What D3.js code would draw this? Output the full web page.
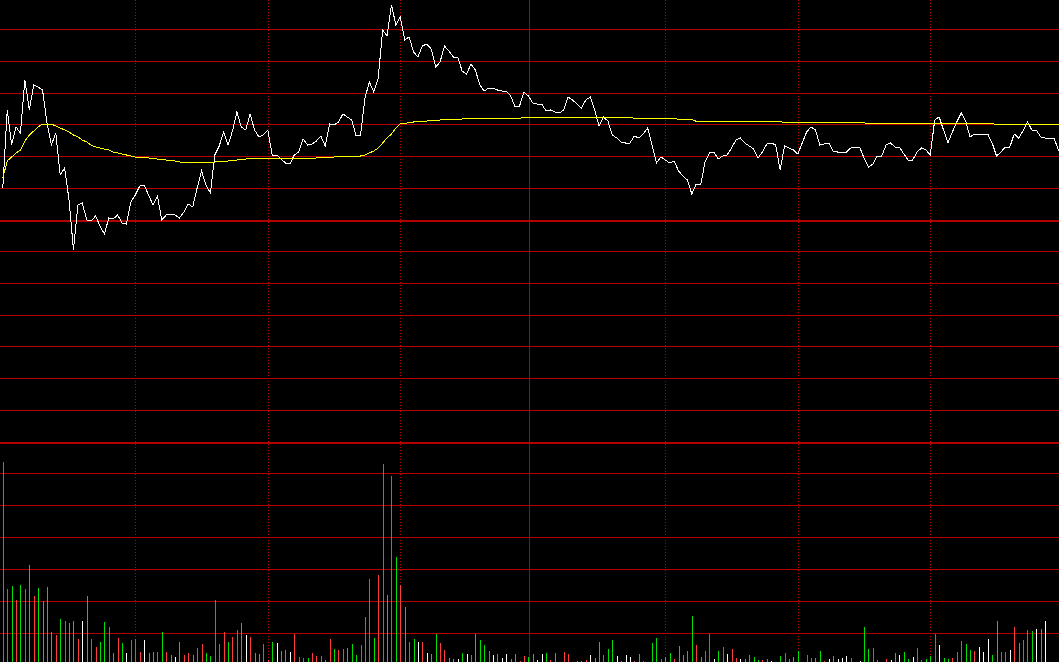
<!DOCTYPE html>
<html>
<head>
<meta charset="utf-8">
<script src="https://cdn.jsdelivr.net/npm/d3@7"></script>
<style>
html, body { margin: 0; padding: 0; background: #000; overflow: hidden; }
</style>
</head>
<body>
<script>
// intraday (分时) chart: previous close, price and average per minute, volume per minute
var prevClose = 2.001;
var maxDev = 0.2219;

var price = [
  2.033,2.111,2.076,2.094,2.088,2.141,2.111,2.136,2.134,2.131,
  2.098,2.076,2.088,2.046,2.053,2.021,1.971,2.016,2.018,2.001,
  2.000,2.005,1.995,1.987,2.003,2.002,2.006,1.998,1.997,2.019,
  2.026,2.035,2.036,2.026,2.016,2.025,2.001,2.006,2.007,2.006,
  2.003,2.009,2.017,2.014,2.033,2.050,2.036,2.028,2.066,2.075,
  2.089,2.076,2.090,2.109,2.094,2.091,2.107,2.091,2.084,2.086,
  2.091,2.066,2.066,2.062,2.058,2.057,2.066,2.069,2.082,2.076,
  2.077,2.080,2.085,2.075,2.097,2.096,2.099,2.107,2.104,2.101,
  2.085,2.086,2.123,2.139,2.129,2.143,2.191,2.185,2.216,2.196,
  2.204,2.181,2.184,2.169,2.164,2.175,2.177,2.172,2.154,2.159,
  2.175,2.170,2.164,2.164,2.150,2.147,2.157,2.151,2.136,2.130,
  2.133,2.133,2.131,2.130,2.130,2.125,2.114,2.115,2.129,2.125,
  2.118,2.117,2.117,2.110,2.111,2.109,2.108,2.111,2.124,2.121,
  2.117,2.113,2.121,2.124,2.111,2.095,2.104,2.100,2.086,2.083,
  2.079,2.078,2.078,2.085,2.083,2.087,2.093,2.076,2.058,2.064,
  2.061,2.058,2.060,2.050,2.045,2.041,2.027,2.037,2.036,2.059,
  2.068,2.069,2.062,2.065,2.066,2.073,2.081,2.083,2.078,2.075,
  2.072,2.063,2.069,2.077,2.078,2.076,2.051,2.075,2.073,2.071,
  2.067,2.078,2.089,2.094,2.091,2.076,2.077,2.078,2.070,2.069,
  2.069,2.069,2.073,2.074,2.074,2.063,2.054,2.057,2.065,2.065,
  2.076,2.078,2.074,2.074,2.067,2.061,2.061,2.069,2.073,2.071,
  2.066,2.101,2.104,2.091,2.078,2.089,2.099,2.108,2.100,2.084,
  2.087,2.087,2.087,2.087,2.078,2.065,2.069,2.074,2.074,2.087,
  2.083,2.090,2.099,2.091,2.091,2.084,2.083,2.083,2.083,2.071,
  2.066
];

var avgPrice = [
  2.043,2.060,2.064,2.068,2.071,2.080,2.086,2.090,2.094,2.097,
  2.097,2.097,2.095,2.093,2.091,2.089,2.086,2.084,2.081,2.079,
  2.076,2.074,2.073,2.072,2.071,2.069,2.068,2.067,2.066,2.065,
  2.064,2.064,2.0635,2.063,2.063,2.062,2.062,2.061,2.0605,2.060,
  2.059,2.0585,2.0585,2.0585,2.0585,2.0585,2.0585,2.0585,2.059,2.0595,
  2.060,2.060,2.0605,2.061,2.0615,2.062,2.0625,2.0627,2.0627,2.0627,
  2.0627,2.0627,2.0627,2.0627,2.0627,2.0627,2.0627,2.0627,2.0627,2.0627,
  2.0627,2.063,2.0635,2.064,2.064,2.064,2.0643,2.0645,2.0647,2.0648,
  2.065,2.065,2.066,2.068,2.070,2.073,2.078,2.083,2.087,2.093,
  2.097,2.0978,2.0982,2.099,2.0993,2.0997,2.100,2.1005,2.1008,2.101,
  2.1013,2.1014,2.1015,2.1017,2.102,2.1024,2.1027,2.1027,2.1027,2.1027,
  2.1027,2.1027,2.1027,2.1027,2.1027,2.1027,2.1027,2.1027,2.1037,2.1037,
  2.1037,2.1037,2.1037,2.1037,2.1037,2.1037,2.1037,2.1037,2.1037,2.1037,
  2.1037,2.1037,2.1037,2.1037,2.1037,2.1037,2.1037,2.1037,2.1037,2.1037,
  2.1037,2.1037,2.1037,2.1027,2.1027,2.1027,2.1027,2.1027,2.1027,2.1027,
  2.1027,2.1027,2.1027,2.1017,2.1017,2.1017,2.1017,2.0997,2.0997,2.0997,
  2.0997,2.0997,2.0997,2.0997,2.0997,2.0997,2.0997,2.0997,2.0997,2.0997,
  2.0997,2.0997,2.0997,2.0997,2.0997,2.0997,2.0997,2.0983,2.0983,2.0983,
  2.0983,2.0983,2.0983,2.0983,2.0983,2.0983,2.0983,2.0983,2.0983,2.0983,
  2.0983,2.0983,2.0983,2.0983,2.0983,2.0983,2.0973,2.0973,2.0973,2.0973,
  2.0973,2.0973,2.0973,2.0973,2.0973,2.0973,2.0973,2.0973,2.0973,2.0973,
  2.0973,2.0973,2.0973,2.0973,2.0973,2.0973,2.0973,2.0973,2.0973,2.0973,
  2.0973,2.0973,2.0973,2.0973,2.0973,2.0967,2.0967,2.0967,2.0967,2.0967,
  2.0967,2.0967,2.0967,2.0967,2.0967,2.0967,2.0967,2.0967,2.0967,2.0967,
  2.0957
];

var volume = [
  2033,760,790,650,800,760,1000,690,770,640,
  780,330,300,460,440,420,440,260,440,690,
  260,180,230,430,380,120,270,220,120,250,
  260,130,250,120,130,130,330,130,100,80,
  230,100,120,100,170,210,120,90,650,210,
  330,230,280,350,420,300,280,120,110,210,
  50,230,220,140,150,130,310,80,70,70,
  120,90,90,50,260,160,150,160,170,210,
  100,200,480,860,270,900,2010,700,1890,1080,
  800,580,230,260,230,230,120,110,310,220,
  150,70,60,60,120,110,100,310,250,200,
  140,100,110,70,110,60,110,40,90,80,
  110,50,110,120,50,120,20,130,110,20,
  40,40,50,100,70,230,100,160,250,90,
  40,100,80,40,110,40,20,220,270,60,
  80,120,60,190,100,140,490,200,80,140,
  310,60,140,180,110,160,70,60,60,100,
  80,50,50,60,40,20,90,120,60,80,
  140,10,100,70,70,140,40,60,90,60,
  70,90,70,10,40,380,160,170,50,10,
  60,50,120,100,130,60,80,170,50,60,
  90,310,200,70,60,70,130,240,210,150,
  140,180,130,260,100,440,130,130,150,380,
  220,250,350,340,360,360,440,0,0,0,
  0
];

// r = up tick, g = down tick, w = unchanged
var tickDir = (
  "rrgrgrgrgg" + "ggrgrggrwg" + "rrggrgrgwr" + "rrwggrgrgw" +
  "grrgrrggrr" + "rgrrgwrggr" + "rgwggwrrrg" + "rrrgrgrrgg" +
  "grrrgrrgrg" + "rgrgwrwggr" + "rggwgwrggg" + "rwgwwggrrg" +
  "gwwgrggrrg" + "ggrwggrggw" + "gwwrgrrggr" + "ggrggggrgr" +
  "rwgrwrrwgg" + "ggrrwggrgg" + "grrrggrwgw" + "wwrwwggrrw" +
  "rwgwggwrrg" + "grwggrrrgg" + "rwwwggrrwr" + "grrgwgwwww" + "w"
).split("");

var halfHourIdx = [30, 60, 90, 150, 180, 210];
var noonIdx = 119.2;

var colors = { r: "#ff3c3c", g: "#00e000", w: "#ffffff" };
var gridColor = "#b40000";

var W = 1059, H = 662;

var svg = d3.select("body")
  .append("svg")
  .attr("width", W)
  .attr("height", H)
  .style("display", "block")
  .style("background", "#000");

var x = d3.scaleLinear().domain([0, 240]).range([2.8, 1062.8]);
var y = d3.scaleLinear().domain([prevClose - maxDev, prevClose + maxDev]).range([441.9, -1.9]);
var yv = d3.scaleLinear().domain([0, 2240]).range([665.3, 441.3]);

var grid = svg.append("g").attr("shape-rendering", "crispEdges");

// price grid: 7 steps each side of the previous close
var step = maxDev / 7;
d3.range(-7, 7).forEach(function(k){
  var thick = (k == 0 || k == -7);
  var py = thick ? Math.round(y(prevClose + k * step)) + 1 : Math.floor(y(prevClose + k * step)) + 0.5;
  grid.append("line")
    .attr("x1", 0).attr("x2", W)
    .attr("y1", py).attr("y2", py)
    .attr("stroke", gridColor)
    .attr("stroke-width", thick ? 2 : 1);
});

// volume grid
d3.range(1, 7).forEach(function(k){
  var vy = Math.floor(yv(k * 320)) + 0.5;
  grid.append("line")
    .attr("x1", 0).attr("x2", W)
    .attr("y1", vy).attr("y2", vy)
    .attr("stroke", gridColor)
    .attr("stroke-width", 1);
});

// time grid
halfHourIdx.forEach(function(i){
  var tx = Math.round(x(i)) + 0.5;
  grid.append("line")
    .attr("x1", tx).attr("x2", tx)
    .attr("y1", 0).attr("y2", H)
    .attr("stroke", gridColor)
    .attr("stroke-dasharray", "1,2");
});
grid.append("line")
  .attr("x1", Math.round(x(noonIdx)) + 0.5).attr("x2", Math.round(x(noonIdx)) + 0.5)
  .attr("y1", 0).attr("y2", H)
  .attr("stroke", gridColor);

// volume bars
svg.append("g")
  .attr("shape-rendering", "crispEdges")
  .selectAll("rect")
  .data(volume)
  .enter()
  .filter(function(d){ return d > 0; })
  .append("rect")
  .attr("x", function(d, i){ return Math.round(x(i)); })
  .attr("y", function(d){ return yv(d); })
  .attr("width", 1)
  .attr("height", function(d){ return yv(0) - yv(d); })
  .attr("fill", function(d, i){ return colors[tickDir[i]]; });

var priceLine = d3.line()
  .x(function(d, i){ return x(i); })
  .y(function(d){ return y(d); });

svg.append("path")
  .datum(price)
  .attr("d", priceLine)
  .attr("fill", "none")
  .attr("stroke", "#ffffff")
  .attr("stroke-width", 1)
  .attr("shape-rendering", "crispEdges");

svg.append("path")
  .datum(avgPrice)
  .attr("d", priceLine)
  .attr("fill", "none")
  .attr("stroke", "#ffff00")
  .attr("stroke-width", 1)
  .attr("shape-rendering", "crispEdges");
</script>
</body>
</html>
